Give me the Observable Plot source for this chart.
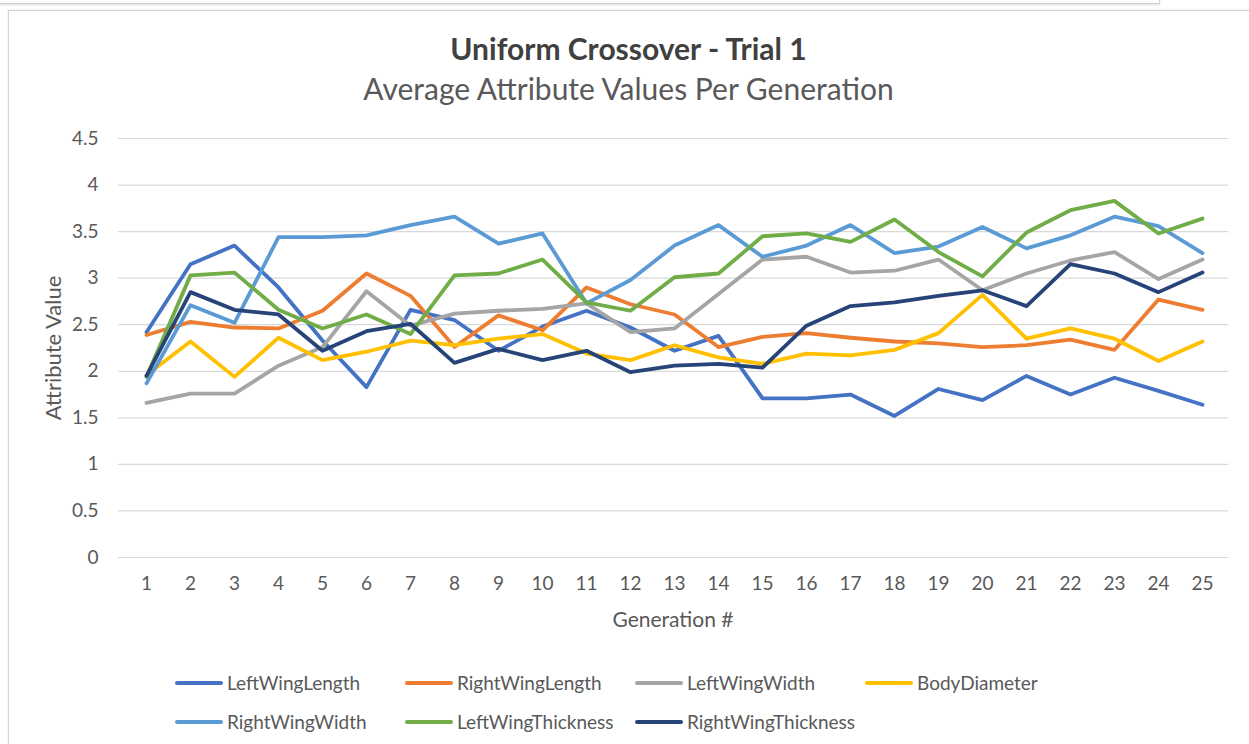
<!DOCTYPE html>
<html>
<head>
<meta charset="utf-8">
<script src="https://cdn.jsdelivr.net/npm/d3@7"></script>
<script src="https://cdn.jsdelivr.net/npm/@observablehq/plot@0.6"></script>
<style>
  html, body { margin: 0; padding: 0; background: #fff; width: 1249px; height: 744px; overflow: hidden; font-family: Lato, "Open Sans", sans-serif; }
  #topbox { position: absolute; left: -2px; top: -12px; width: 1160px; height: 14px; border: 1px solid #cfcfcf; box-shadow: 0 1px 2px #ddd; background: #fff; }
  #frame { position: absolute; left: 8px; top: 10px; width: 1300px; height: 800px; border: 1px solid #d4d4d4; box-shadow: 0 0 2px #e0e0e0; background: #fff; }
  #title { position: absolute; left: 8px; width: 1241px; top: 30px; text-align: center; font-weight: bold; font-size: 30px; color: #404040; white-space: nowrap; }
  #subtitle { position: absolute; left: 8px; width: 1241px; top: 70px; text-align: center; font-size: 30px; color: #595959; white-space: nowrap; }
  #chart { position: absolute; left: 0; top: 0; }
  #xlabel { position: absolute; left: 473px; width: 400px; top: 606px; text-align: center; font-size: 21px; color: #595959; }
  #ylabel { position: absolute; left: 52px; top: 348px; transform: translate(-50%, -50%) rotate(-90deg); font-size: 22px; color: #595959; white-space: nowrap; }
  .leg { position: absolute; font-size: 19px; color: #595959; white-space: nowrap; display: flex; align-items: center; }
  .leg span.sw { display: inline-block; width: 48px; height: 4px; margin-right: 4px; border-radius: 2px; }
</style>
</head>
<body>
<div id="topbox"></div>
<div id="frame"></div>
<div id="title">Uniform Crossover - Trial 1</div>
<div id="subtitle">Average Attribute Values Per Generation</div>
<div id="chart"></div>
<div id="xlabel">Generation #</div>
<div id="ylabel">Attribute Value</div>
<div id="legend"></div>
<script>
const generations = [1,2,3,4,5,6,7,8,9,10,11,12,13,14,15,16,17,18,19,20,21,22,23,24,25];
const seriesNames = ["LeftWingLength","RightWingLength","LeftWingWidth","BodyDiameter","RightWingWidth","LeftWingThickness","RightWingThickness"];
const seriesColors = ["#4472C4","#ED7D31","#A5A5A5","#FFC000","#5B9BD5","#70AD47","#264478"];
const yTicks = [0,0.5,1,1.5,2,2.5,3,3.5,4,4.5];

const leftWingLength     = [2.42,3.15,3.35,2.90,2.33,1.83,2.66,2.55,2.22,2.48,2.65,2.47,2.22,2.38,1.71,1.71,1.75,1.52,1.81,1.69,1.95,1.75,1.93,1.79,1.64];
const rightWingLength    = [2.39,2.53,2.47,2.46,2.65,3.05,2.81,2.26,2.60,2.44,2.90,2.72,2.61,2.26,2.37,2.41,2.36,2.32,2.30,2.26,2.28,2.34,2.23,2.77,2.66];
const leftWingWidth      = [1.66,1.76,1.76,2.06,2.26,2.86,2.49,2.62,2.65,2.67,2.73,2.42,2.46,2.83,3.20,3.23,3.06,3.08,3.20,2.87,3.05,3.19,3.28,2.99,3.20];
const bodyDiameter       = [1.96,2.32,1.94,2.36,2.12,2.21,2.33,2.28,2.35,2.40,2.19,2.12,2.28,2.15,2.08,2.19,2.17,2.23,2.41,2.82,2.35,2.46,2.35,2.11,2.32];
const rightWingWidth     = [1.87,2.71,2.52,3.44,3.44,3.46,3.57,3.66,3.37,3.48,2.73,2.98,3.35,3.57,3.23,3.35,3.57,3.27,3.34,3.55,3.32,3.46,3.66,3.56,3.27];
const leftWingThickness  = [1.94,3.03,3.06,2.66,2.46,2.61,2.40,3.03,3.05,3.20,2.74,2.65,3.01,3.05,3.45,3.48,3.39,3.63,3.28,3.02,3.49,3.73,3.83,3.48,3.64];
const rightWingThickness = [1.95,2.85,2.66,2.61,2.22,2.43,2.51,2.09,2.24,2.12,2.22,1.99,2.06,2.08,2.04,2.49,2.70,2.74,2.81,2.87,2.70,3.15,3.05,2.85,3.06];

const seriesValues = [leftWingLength, rightWingLength, leftWingWidth, bodyDiameter, rightWingWidth, leftWingThickness, rightWingThickness];

const data = [];
seriesNames.forEach((name, i) => {
  generations.forEach((g, j) => data.push({series: name, gen: g, value: seriesValues[i][j]}));
});

const chart = Plot.plot({
  width: 1249,
  height: 640,
  marginLeft: 118,
  marginRight: 21,
  marginTop: 138,
  marginBottom: 83,
  style: {fontFamily: "Lato, 'Open Sans', sans-serif", fontSize: "19px", color: "#595959", background: "transparent"},
  x: {type: "point", domain: generations, padding: 0, range: [141, 1206], label: null},
  y: {domain: [0, 4.5], label: null},
  color: {domain: seriesNames, range: seriesColors},
  marks: [
    Plot.gridY(yTicks, {stroke: "#d9d9d9", strokeOpacity: 1, strokeWidth: 1.2}),
    Plot.axisY(yTicks, {tickSize: 0, tickPadding: 20, tickFormat: d => String(d), fontSize: 19, fill: "#595959", label: null}),
    Plot.axisX(generations, {tickSize: 0, tickPadding: 19, fontSize: 19, fill: "#595959", label: null}),
    Plot.lineY(data, {x: "gen", y: "value", z: "series", stroke: "series", strokeWidth: 3.8, strokeLinejoin: "round", strokeLinecap: "round"})
  ]
});
document.getElementById("chart").appendChild(chart);

const legend = document.getElementById("legend");
const legX = [175, 405, 635, 865];
const legY = [683, 722];
seriesNames.forEach((name, i) => {
  const d = document.createElement("div");
  d.className = "leg";
  d.style.left = legX[i % 4] + "px";
  d.style.top = (legY[Math.floor(i / 4)] - 12) + "px";
  d.innerHTML = `<span class="sw" style="background:${seriesColors[i]}"></span>${name}`;
  legend.appendChild(d);
});
</script>
</body>
</html>
